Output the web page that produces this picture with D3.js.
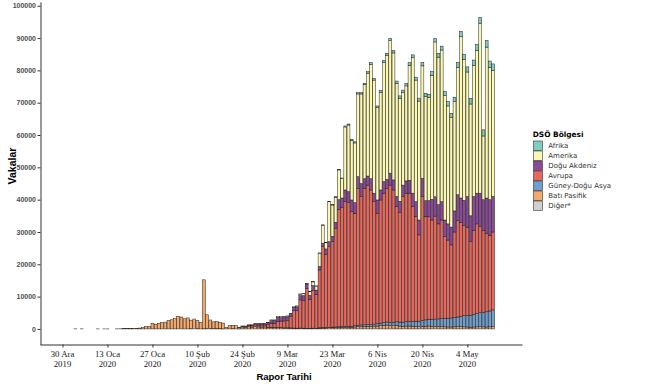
<!DOCTYPE html>
<html><head><meta charset="utf-8">
<script src="https://cdn.jsdelivr.net/npm/d3@7"></script>
<style>body{margin:0;background:#fff}svg{display:block}</style>
</head><body>
<svg id="chart" width="650" height="388"></svg>
<script>
// ---- DATA (daily new cases by WHO region; first day = 2020-01-03) ----
const startDate = "2020-01-03";
const regionNames = ["Afrika","Amerika","Doğu Akdeniz","Avrupa","Güney-Doğu Asya","Batı Pasifik","Diğer*"];
const regionColors = ["#7ecdc3","#fbf8b3","#8b4a98","#e8695c","#6f9fcc","#f4a96a","#d0d0d0"];

const batiPasifik = [
 17,0,15,0,0,0,0,10,0,8, 8,0,0,20,30,60,80,80,150,130,
 260,440,690,770,1770,1460,1740,1980,2100,2590, 2830,3240,3890,3690,3140,3400,2660,3060,2480,2020,
 15150,4300,2700,2100,2150,1950,1800,450,1000,1050, 1000,430,600,550,650,550,700,600,550,600,
 550,500,450,400,350,300,300,300,250,200, 250,200,150,150,200,150,250,300,300,400,
 350,400,450,500,500,550,450,600,700,750, 800,800,750,850,900,1000,1100,1200,1100,1000,
 1100,900,800,900,900,850,800,700,800,800, 900,800,750,700,700,650,600,600,650,700,
 700,650,600,550,600,650,700,650,600,650, 700];
const guneyDoguAsya = [
 0,0,0,0,0,0,0,0,0,0, 0,0,0,0,0,0,0,0,0,0,
 0,0,0,0,0,0,0,0,0,0, 0,0,0,0,0,0,0,0,0,0,
 0,0,0,0,0,0,0,0,0,0, 0,0,0,0,0,0,0,0,0,0,
 10,20,20,30,30,40,40,20,20,30, 30,40,50,40,50,60,100,100,150,150,
 200,200,250,250,300,300,350,400,450,500, 500,550,600,650,700,800,900,950,1000,1050,
 1100,1200,1300,1400,1400,1500,1600,1700,1800,2000, 2100,2200,2300,2400,2500,2600,2700,2800,2900,3000,
 3200,3500,3600,3700,3900,4100,4300,4500,4700,4900, 5200];
const avrupa = [
 0,0,0,0,0,0,0,0,0,0, 0,0,0,0,0,0,0,0,0,0,
 0,0,0,0,0,0,0,0,0,0, 0,0,0,0,0,0,0,0,0,0,
 0,0,0,0,0,0,0,0,0,0, 0,50,200,200,350,400,550,600,650,600,
 800,1200,1250,1900,2050,2100,2300,3630,5380,5400, 8700,8600,12300,9000,11600,10500,17900,25100,22500,25000,
 26500,30400,36300,36750,38600,38250,35500,34800,42350,39650, 42200,43150,41650,37900,34200,38100,40000,41350,42400,40950,
 35600,33900,38800,39700,39700,35450,32300,26700,38300,31900, 31700,30700,31850,29400,30500,25350,24200,22600,26450,29800,
 29100,27850,27300,22750,26000,27750,26800,25350,24200,23450, 24100];
const doguAkdeniz = [
 0,0,0,0,0,0,0,0,0,0, 0,0,0,0,0,0,0,0,0,0,
 0,0,0,0,0,0,0,0,0,0, 0,0,0,0,0,0,0,0,0,0,
 0,0,0,0,0,0,0,0,0,0, 0,20,60,100,200,250,400,450,450,450,
 550,900,950,1250,1100,1150,1000,850,1050,1100, 1350,1450,1350,1200,1600,1300,1100,1000,1800,1500,
 1600,2000,3000,3000,3600,3400,3600,3300,3600,4100, 3000,2800,3500,2600,4100,3100,3600,2800,3700,3100,
 3200,3500,3600,3800,4000,4200,4700,4600,5700,5000, 5000,6400,6000,6000,5700,5100,5000,5500,6500,8000,
 7500,7800,9500,8000,10500,9500,10200,9500,11000,11000, 11000];
const amerika = [
 0,0,0,0,0,0,0,0,0,0, 0,0,0,0,0,0,0,0,0,0,
 0,0,0,0,0,0,0,0,0,0, 0,0,0,0,0,0,0,0,0,0,
 0,0,0,0,0,0,0,0,0,0, 0,0,40,50,50,50,100,100,100,100,
 90,180,130,220,270,300,350,50,150,350, 450,650,200,1100,1100,1250,4100,5600,1900,12300,
 9700,7700,9200,6000,19500,20600,18500,18450,25600,27700, 29050,31850,35400,35000,28600,30150,36800,38400,41050,39300,
 35000,31900,28650,29400,35600,41900,37600,36800,34800,32200, 31900,38400,47900,45600,46900,38500,36500,33900,33800,39400,
 49900,43600,38500,34600,40500,44200,52600,19700,46700,40900, 39000];
const afrika = [
 0,0,0,0,0,0,0,0,0,0, 0,0,0,0,0,0,0,0,0,0,
 0,0,0,0,0,0,0,0,0,0, 0,0,0,0,0,0,0,0,0,0,
 0,0,0,0,0,0,0,0,0,0, 0,0,0,0,0,0,0,0,0,0,
 0,0,0,0,0,10,10,0,0,10, 20,30,30,30,50,40,50,100,50,150,
 150,200,200,200,300,300,300,350,400,400, 450,450,500,500,500,550,600,600,650,700,
 700,700,750,800,800,900,900,900,1000,1000, 1000,1100,1100,1200,1200,1200,1300,1300,1400,1500,
 1600,1600,1600,1700,1700,1800,1800,1900,2000,2000, 2000];
const diger = [
 0,0,0,0,0,0,0,0,0,0, 0,0,0,0,0,0,0,0,0,0,
 0,0,0,0,0,0,0,0,0,0, 0,0,0,0,0,0,61,0,65,0,
 44,67,70,99,88,79,13,0,0,57, 0,14,0,0,0,0,0,0,0,0,
 0,0,0,0,0,0,0,0,0,0, 0,0,0,0,0,0,0,0,0,0,
 0,0,0,0,0,0,0,0,0,0, 0,0,0,0,0,0,0,0,0,0,
 0,0,0,0,0,0,0,0,0,0, 0,0,0,0,0,0,0,0,0,0,
 0,0,0,0,0,0,0,0,0,0, 0];

const xDomain = ["2019-12-23","2020-05-21"];
const tickDates = ["2019-12-30","2020-01-13","2020-01-27","2020-02-10","2020-02-24","2020-03-09","2020-03-23","2020-04-06","2020-04-20","2020-05-04"];
const tickLabels = [["30 Ara","2019"],["13 Oca","2020"],["27 Oca","2020"],["10 Şub","2020"],["24 Şub","2020"],["9 Mar","2020"],["23 Mar","2020"],["6 Nis","2020"],["20 Nis","2020"],["4 May","2020"]];
const yTicks = [0,10000,20000,30000,40000,50000,60000,70000,80000,90000,100000];
const yDomain = [-4820, 101220];

// ---- BUILD ----
const seriesArrays = {"Afrika":afrika,"Amerika":amerika,"Doğu Akdeniz":doguAkdeniz,"Avrupa":avrupa,
  "Güney-Doğu Asya":guneyDoguAsya,"Batı Pasifik":batiPasifik,"Diğer*":diger};
const parse = d3.utcParse("%Y-%m-%d");
const t0 = parse(startDate);
const rows = batiPasifik.map((_, i) => {
  const r = {date: d3.utcDay.offset(t0, i)};
  regionNames.forEach(k => r[k] = seriesArrays[k][i]);
  return r;
});
const stackKeys = regionNames.slice().reverse(); // bottom -> top
const colorOf = d3.scaleOrdinal().domain(regionNames).range(regionColors);

const svg = d3.select("#chart");
svg.append("rect").attr("width",650).attr("height",388).attr("fill","#fff");

const x = d3.scaleUtc().domain(xDomain.map(parse)).range([40, 522]);
const y = d3.scaleLinear().domain(yDomain).range([344.5, 1.8]);
const dayW = x(d3.utcDay.offset(t0,1)) - x(t0);
const bw = dayW * 0.9;

const stacked = d3.stack().keys(stackKeys)(rows);
const g = svg.append("g");
stacked.forEach(layer => {
  g.append("g").selectAll("rect")
    .data(layer.filter(d => d[1] - d[0] > 0))
    .join("rect")
    .attr("x", d => x(d.data.date) - bw/2)
    .attr("width", bw)
    .attr("y", d => y(d[1]))
    .attr("height", d => Math.max(0.05, y(d[0]) - y(d[1])))
    .attr("fill", colorOf(layer.key))
    .attr("stroke", "#1e1e1e")
    .attr("stroke-width", 0.5);
});

// Y axis
const yAxis = svg.append("g").attr("transform","translate(40.5,0)")
  .call(d3.axisLeft(y).tickValues(yTicks).tickSize(3).tickSizeOuter(0).tickFormat(d3.format("d")));
yAxis.select(".domain").attr("stroke","#333").attr("stroke-width",1);
yAxis.selectAll(".tick line").attr("stroke","#333");
yAxis.selectAll(".tick text").attr("x",-4.5).attr("fill","#4d4d4d")
  .style("font-family","'Liberation Sans', Arial, sans-serif").style("font-size","7px").style("font-weight","bold");

// X axis
const xAxis = svg.append("g").attr("transform","translate(0,344.5)")
  .call(d3.axisBottom(x).tickValues(tickDates.map(parse)).tickSize(3).tickSizeOuter(0).tickFormat(""));
xAxis.select(".domain").attr("stroke","#333").attr("stroke-width",1);
xAxis.selectAll(".tick line").attr("stroke","#333");
const lab = svg.append("g").style("font-family","'Liberation Serif','Times New Roman',serif")
  .style("font-size","8.8px").attr("fill","#1a1a1a").attr("text-anchor","middle");
tickDates.forEach((d,i) => {
  const t = lab.append("text").attr("x", x(parse(d)));
  t.append("tspan").attr("x", x(parse(d))).attr("y", 357).text(tickLabels[i][0]);
  t.append("tspan").attr("x", x(parse(d))).attr("y", 366.5).text(tickLabels[i][1]);
});

// Axis titles
svg.append("text").attr("transform","translate(16.3,166) rotate(-90)").attr("text-anchor","middle")
  .style("font-family","'Liberation Sans', Arial, sans-serif").style("font-size","10.5px").style("font-weight","bold")
  .attr("fill","#000").text("Vakalar");
svg.append("text").attr("x",284).attr("y",379.5).attr("text-anchor","middle")
  .style("font-family","'Liberation Sans', Arial, sans-serif").style("font-size","9.5px").style("font-weight","bold")
  .attr("fill","#000").text("Rapor Tarihi");

// Legend
const leg = svg.append("g");
leg.append("text").attr("x",532.7).attr("y",137.3)
  .style("font-family","'DejaVu Sans', Verdana, sans-serif").style("font-size","7.4px").style("font-weight","bold")
  .attr("fill","#000").text("DSÖ Bölgesi");
regionNames.forEach((k,i) => {
  const yy = 140.7 + i*10;
  leg.append("rect").attr("x",533.5).attr("y",yy+0.3).attr("width",9).attr("height",9.4)
    .attr("fill",colorOf(k)).attr("stroke","#333").attr("stroke-width",0.6);
  leg.append("text").attr("x",548.3).attr("y",yy+7.6)
    .style("font-family","'DejaVu Sans', Verdana, sans-serif").style("font-size","7px")
    .attr("fill","#333").text(k);
});
</script>
</body></html>
